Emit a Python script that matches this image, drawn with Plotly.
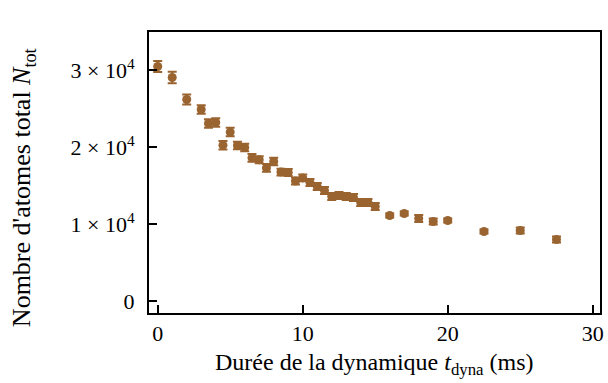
import plotly.graph_objects as go

t_dyna = [0, 1, 2, 3, 3.5, 4, 4.5, 5, 5.5, 6, 6.5, 7, 7.5, 8, 8.5, 9, 9.5, 10,
          10.5, 11, 11.5, 12, 12.5, 13, 13.5, 14, 14.5, 15, 16, 17, 18, 19, 20,
          22.5, 25, 27.5]
n_tot = [30520, 29090, 26230, 24935, 23120, 23250, 20300, 22000, 20260, 20000,
         18650, 18400, 17350, 18180, 16800, 16750, 15650, 16050, 15450, 14940,
         14420, 13640, 13770, 13640, 13510, 12860, 12860, 12340, 11170, 11430,
         10780, 10390, 10520, 9090, 9220, 8050]
n_err = [700, 750, 650, 550, 550, 550, 550, 550, 500, 500, 500, 450, 500, 500,
         450, 450, 450, 450, 450, 450, 450, 450, 450, 450, 450, 450, 450, 450,
         250, 250, 450, 400, 250, 250, 400, 400]

y_tickvals = [0, 10000, 20000, 30000]
y_ticktext = ["0", "1 × 10<sup>4</sup>", "2 × 10<sup>4</sup>", "3 × 10<sup>4</sup>"]
x_tickvals = [0, 10, 20, 30]
x_title = "Durée de la dynamique <i>t</i><sub>dyna</sub> (ms)"
y_title = "Nombre d'atomes total <i>N</i><sub>tot</sub>"

color = "#9a6430"
font_family = "Liberation Serif, DejaVu Serif, serif"

fig = go.Figure()
fig.add_trace(go.Scatter(
    x=t_dyna, y=n_tot, mode="markers",
    marker=dict(symbol="circle", size=9, color=color, line=dict(width=0)),
    error_y=dict(type="data", array=n_err, visible=True, color=color,
                 thickness=2, width=4.5),
    showlegend=False,
))

axis_common = dict(
    showgrid=False, zeroline=False, showline=True, linecolor="black",
    linewidth=2, mirror=True, ticks="inside", ticklen=8, tickwidth=2,
    tickcolor="black", tickfont=dict(family=font_family, size=22, color="black"),
)

fig.update_layout(
    width=608, height=383,
    margin=dict(l=149, r=4, t=32, b=70),
    plot_bgcolor="white", paper_bgcolor="white",
    font=dict(family=font_family, color="black"),
    xaxis=dict(range=[-0.6, 30.5], tickvals=x_tickvals,
               ticktext=[str(v) for v in x_tickvals], ticklabelstandoff=0,
               **axis_common),
    yaxis=dict(range=[-1500, 35000], tickvals=y_tickvals, ticktext=y_ticktext,
               ticklabelstandoff=8, **axis_common),
    annotations=[
        dict(text=x_title, xref="paper", yref="paper", x=0.5, y=-0.182,
             xanchor="center", yanchor="middle", showarrow=False,
             font=dict(family=font_family, size=24, color="black")),
        dict(text=y_title, xref="paper", yref="paper", x=-0.279, y=0.445,
             xanchor="center", yanchor="middle", showarrow=False, textangle=-90,
             font=dict(family=font_family, size=26, color="black")),
    ],
)

fig.write_html(
    "out.html",
    config={"displayModeBar": False},
    post_script="document.body.style.margin='0';document.body.style.overflow='hidden';",
)
